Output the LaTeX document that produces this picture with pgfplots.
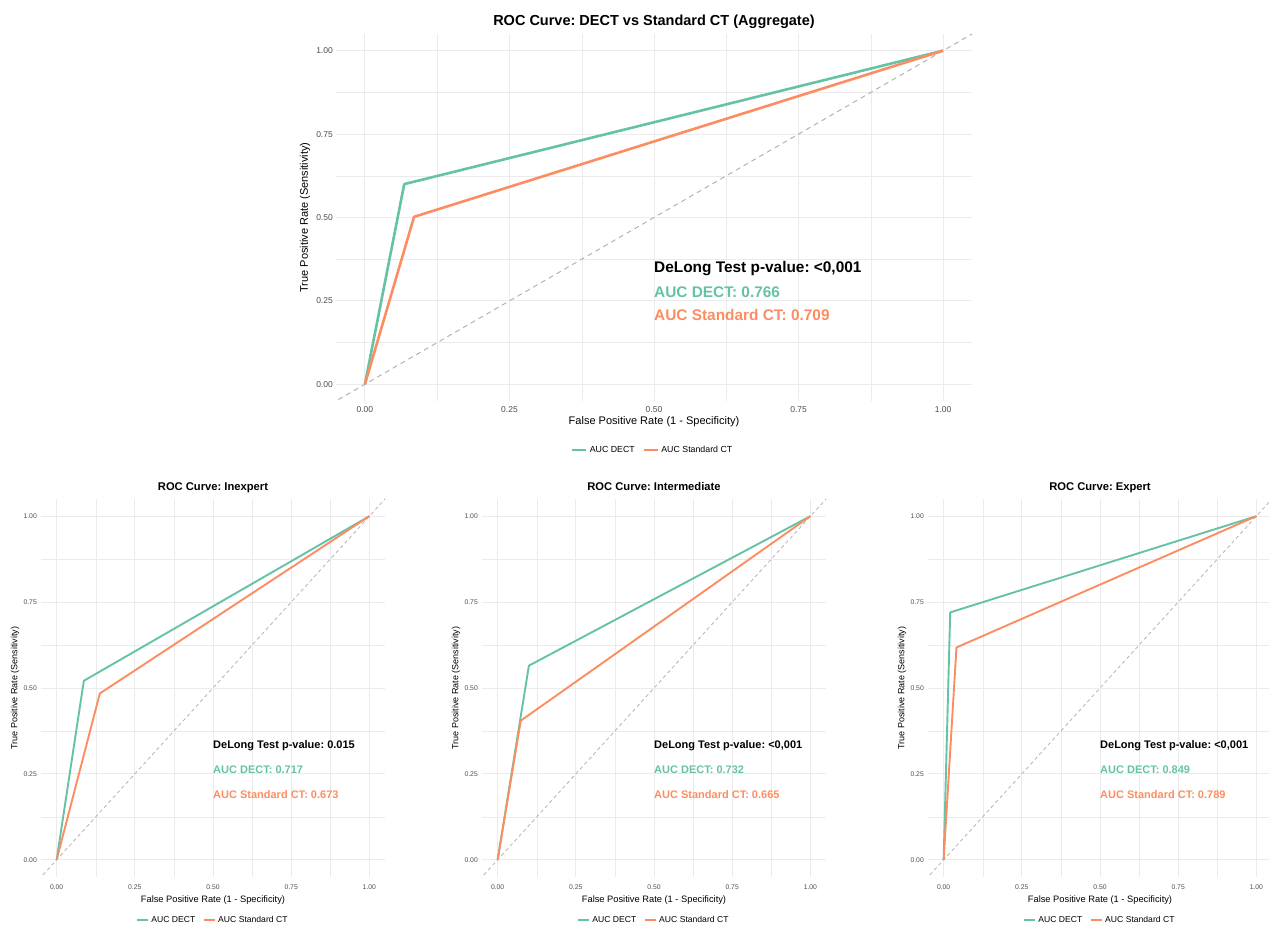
\documentclass[border=0pt]{standalone}
\usepackage{pgfplots}
\pgfplotsset{compat=1.18}
\usepackage{fontspec}
\setmainfont{Liberation Sans}
\frenchspacing
\definecolor{dect}{HTML}{66C2A5}
\definecolor{sct}{HTML}{FC8D62}
\definecolor{gridmaj}{HTML}{EBEBEB}
\definecolor{ticktxt}{HTML}{4D4D4D}
\definecolor{diag}{HTML}{B3B3B3}
\newcommand{\fs}[1]{\fontsize{#1}{#1}\selectfont}
\pgfplotsset{
  rocbase/.style={
    scale only axis,
    anchor=south west,
    xmin=-0.05,xmax=1.05,ymin=-0.05,ymax=1.05,
    axis line style={draw=none},
    major tick length=0pt, minor tick length=0pt,
    xtick={0,0.25,0.5,0.75,1}, ytick={0,0.25,0.5,0.75,1},
    minor xtick={0.125,0.375,0.625,0.875}, minor ytick={0.125,0.375,0.625,0.875},
    xticklabels={0.00,0.25,0.50,0.75,1.00}, yticklabels={0.00,0.25,0.50,0.75,1.00},
    grid=both,
    major grid style={gridmaj, line width=0.9pt},
    minor grid style={gridmaj, line width=0.45pt},
    tick label style={text=ticktxt},
    /pgf/number format/assume math mode=true,
    every axis title shift=0pt,
    legend columns=2,
    legend cell align=left,
  },
  roctop/.style={
    rocbase,
    width=636pt, height=367pt,
    xticklabel style={font=\fs{8.5}, anchor=center, yshift=-9pt},
    yticklabel style={font=\fs{8.5}, anchor=east, inner sep=0pt, xshift=-3pt},
    xlabel style={font=\fs{11}, at={(axis description cs:0.5,-0.0572)}, anchor=center},
    ylabel style={font=\fs{11}, at={(axis description cs:-0.0487,0.5)}, anchor=center},
    title style={font=\bfseries\fs{14.5}, at={(axis description cs:0.5,1.0232)}, anchor=base},
    legend style={at={(0.498,-0.1335)}, anchor=center, draw=none, fill=none, font=\fs{8.8},
      /tikz/every even column/.append style={column sep=6pt}},
    legend image code/.code={\draw[#1] (0pt,0pt) -- (14pt,0pt);},
  },
  rocbot/.style={
    rocbase,
    width=344pt, height=378pt,
    xticklabel style={font=\fs{6.8}, anchor=center, yshift=-10pt},
    yticklabel style={font=\fs{6.8}, anchor=east, inner sep=0pt, xshift=-4pt},
    xlabel style={font=\fs{9.3}, at={(axis description cs:0.5,-0.0608)}, anchor=center},
    ylabel style={font=\fs{9}, at={(axis description cs:-0.0756,0.5)}, anchor=center},
    title style={font=\bfseries\fs{11.2}, at={(axis description cs:0.5,1.0212)}, anchor=base},
    legend style={at={(0.5,-0.1138)}, anchor=center, draw=none, fill=none, font=\fs{8.6},
      /tikz/every even column/.append style={column sep=6pt}},
    legend image code/.code={\draw[#1] (0pt,0pt) -- (11pt,0pt);},
  },
}
\begin{document}
\begin{tikzpicture}
% ---------------- Top: aggregate ----------------
\begin{axis}[roctop, at={(336pt,526pt)},
  title={ROC Curve: DECT vs Standard CT (Aggregate)},
  xlabel={False Positive Rate (1 - Specificity)},
  ylabel={True Positive Rate (Sensitivity)}]
\addplot[diag, line width=1pt, dash pattern=on 5pt off 4pt, forget plot] coordinates {(-0.1,-0.1) (1.1,1.1)};
\addplot[dect, line width=2.6pt, line join=round] coordinates {(0,0) (0.068,0.600) (1,1)};
\addlegendentry{AUC DECT}
\addplot[sct, line width=2.6pt, line join=round] coordinates {(0,0) (0.085,0.502) (1,1)};
\addlegendentry{AUC Standard CT}
\node[anchor=west, inner sep=0pt, font=\bfseries\fs{15.4}] at (axis cs:0.5,0.348) {DeLong Test p-value: <0,001};
\node[anchor=west, inner sep=0pt, font=\bfseries\fs{15.4}, text=dect] at (axis cs:0.5,0.276) {AUC DECT: 0.766};
\node[anchor=west, inner sep=0pt, font=\bfseries\fs{15.4}, text=sct] at (axis cs:0.5,0.207) {AUC Standard CT: 0.709};
\end{axis}
% ---------------- Bottom left: Inexpert ----------------
\begin{axis}[rocbot, at={(41pt,50pt)},
  title={ROC Curve: Inexpert},
  xlabel={False Positive Rate (1 - Specificity)},
  ylabel={True Positive Rate (Sensitivity)}]
\addplot[diag, line width=0.8pt, dash pattern=on 3.5pt off 3pt, forget plot] coordinates {(-0.1,-0.1) (1.1,1.1)};
\addplot[dect, line width=1.9pt, line join=round] coordinates {(0,0) (0.087,0.521) (1,1)};
\addlegendentry{AUC DECT}
\addplot[sct, line width=1.9pt, line join=round] coordinates {(0,0) (0.138,0.484) (1,1)};
\addlegendentry{AUC Standard CT}
\node[anchor=west, inner sep=0pt, font=\bfseries\fs{11}] at (axis cs:0.5,0.331) {DeLong Test p-value: 0.015};
\node[anchor=west, inner sep=0pt, font=\bfseries\fs{11}, text=dect] at (axis cs:0.5,0.262) {AUC DECT: 0.717};
\node[anchor=west, inner sep=0pt, font=\bfseries\fs{11}, text=sct] at (axis cs:0.5,0.189) {AUC Standard CT: 0.673};
\end{axis}
% ---------------- Bottom middle: Intermediate ----------------
\begin{axis}[rocbot, at={(482pt,50pt)},
  title={ROC Curve: Intermediate},
  xlabel={False Positive Rate (1 - Specificity)},
  ylabel={True Positive Rate (Sensitivity)}]
\addplot[diag, line width=0.8pt, dash pattern=on 3.5pt off 3pt, forget plot] coordinates {(-0.1,-0.1) (1.1,1.1)};
\addplot[dect, line width=1.9pt, line join=round] coordinates {(0,0) (0.100,0.565) (1,1)};
\addlegendentry{AUC DECT}
\addplot[sct, line width=1.9pt, line join=round] coordinates {(0,0) (0.074,0.405) (1,1)};
\addlegendentry{AUC Standard CT}
\node[anchor=west, inner sep=0pt, font=\bfseries\fs{11}] at (axis cs:0.5,0.331) {DeLong Test p-value: <0,001};
\node[anchor=west, inner sep=0pt, font=\bfseries\fs{11}, text=dect] at (axis cs:0.5,0.262) {AUC DECT: 0.732};
\node[anchor=west, inner sep=0pt, font=\bfseries\fs{11}, text=sct] at (axis cs:0.5,0.189) {AUC Standard CT: 0.665};
\end{axis}
% ---------------- Bottom right: Expert ----------------
\begin{axis}[rocbot, at={(928pt,50pt)},
  title={ROC Curve: Expert},
  xlabel={False Positive Rate (1 - Specificity)},
  ylabel={True Positive Rate (Sensitivity)}]
\addplot[diag, line width=0.8pt, dash pattern=on 3.5pt off 3pt, forget plot] coordinates {(-0.1,-0.1) (1.1,1.1)};
\addplot[dect, line width=1.9pt, line join=round] coordinates {(0,0) (0.021,0.720) (1,1)};
\addlegendentry{AUC DECT}
\addplot[sct, line width=1.9pt, line join=round] coordinates {(0,0) (0.041,0.618) (1,1)};
\addlegendentry{AUC Standard CT}
\node[anchor=west, inner sep=0pt, font=\bfseries\fs{11}] at (axis cs:0.5,0.331) {DeLong Test p-value: <0,001};
\node[anchor=west, inner sep=0pt, font=\bfseries\fs{11}, text=dect] at (axis cs:0.5,0.262) {AUC DECT: 0.849};
\node[anchor=west, inner sep=0pt, font=\bfseries\fs{11}, text=sct] at (axis cs:0.5,0.189) {AUC Standard CT: 0.789};
\end{axis}
\pgfresetboundingbox
\useasboundingbox (0pt,0pt) rectangle (1269pt,927pt);
\end{tikzpicture}
\end{document}
